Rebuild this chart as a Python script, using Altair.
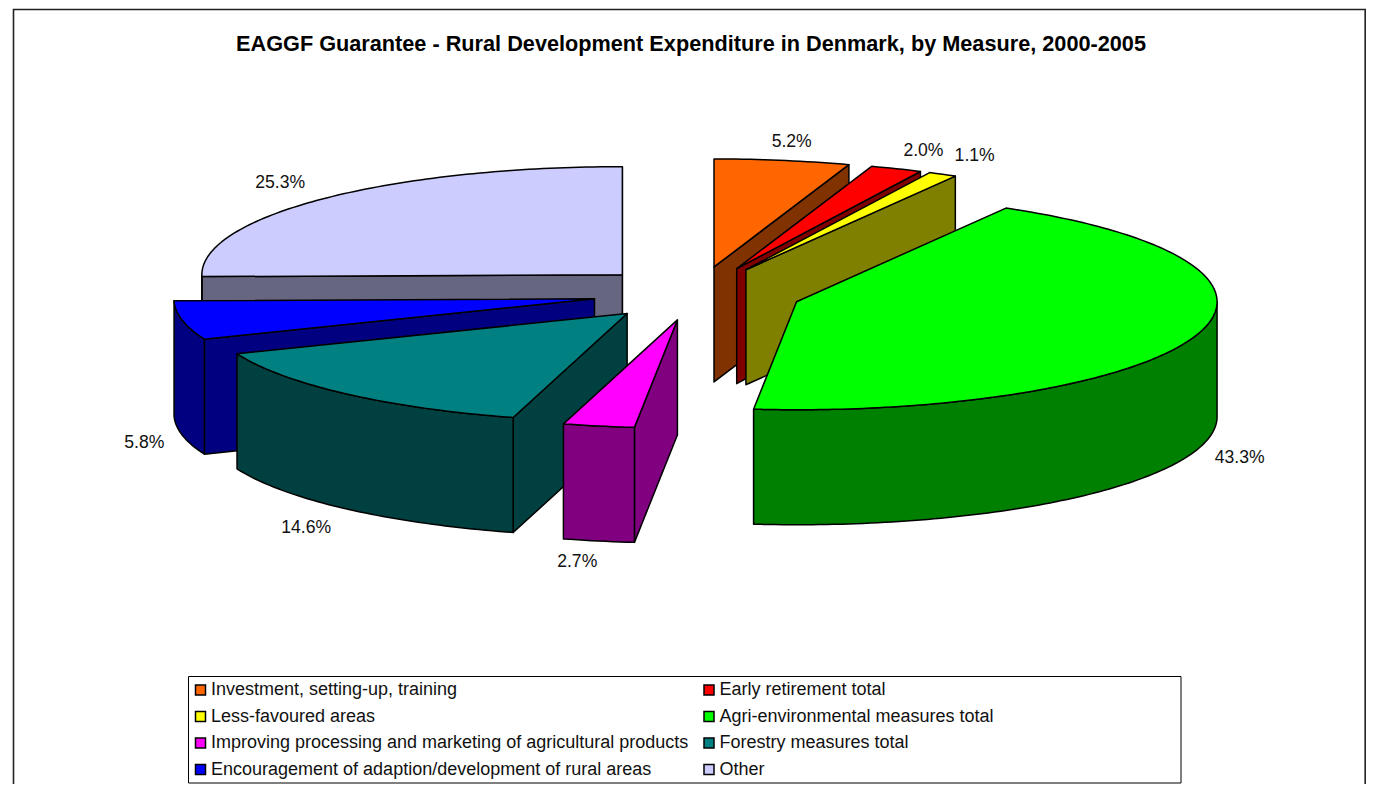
import math
import altair as alt

# ---- data ----
measures = [
    "Investment, setting-up, training",
    "Early retirement total",
    "Less-favoured areas",
    "Agri-environmental measures total",
    "Improving processing and marketing of agricultural products",
    "Forestry measures total",
    "Encouragement of adaption/development of rural areas",
    "Other",
]
shares = [5.2, 2.0, 1.1, 43.35, 2.74, 14.55, 5.8, 25.3]
share_labels = ["5.2%", "2.0%", "1.1%", "43.3%", "2.7%", "14.6%", "5.8%", "25.3%"]
top_colours = ["#FF6600", "#FF0000", "#FFFF00", "#00FF00", "#FF00FF", "#008080", "#0000FF", "#CCCCFF"]
side_colours = ["#803300", "#800000", "#808000", "#008000", "#800080", "#004040", "#000080", "#666680"]
title_text = "EAGGF Guarantee - Rural Development Expenditure in Denmark, by Measure, 2000-2005"

# ---- pie geometry (an Excel-style exploded 3-D pie) ----
W, H = 1358, 776          # drawing surface, page margin is 8px
OFF = 8
CX, CY = 697.0, 293.5     # pie centre on the page
RX, RY = 420.5, 108.0     # ellipse radii of each slice
EX, EY = 104.6, 26.9      # explosion distance
DEPTH = 115.0             # thickness of the pie
DRAW_ORDER = [7, 6, 5, 4, 0, 1, 2, 3]
LABEL_OFFSET = (45.0, 20.0)
LABEL_NUDGE = [(2, 1), (10, 1), (11, -1), (0, 2), (-13, 1), (-10, 4), (6, 4), (-10, -2)]

total = sum(shares)
edges = [0.0]
for s in shares:
    edges.append(edges[-1] + s / total * 2 * math.pi)


def rim(ax, ay, a, drop=0.0):
    return [ax + RX * math.sin(a), ay - RY * math.cos(a) + drop]


def arc(ax, ay, a0, a1, drop=0.0):
    n = max(2, int(abs(a1 - a0) / math.radians(1)) + 1)
    return [rim(ax, ay, a0 + (a1 - a0) * i / n, drop) for i in range(n + 1)]


def feature(points, fill, order):
    ring = points + [points[0]]
    return {
        "type": "Feature",
        "properties": {"fill": fill, "order": order},
        "geometry": {"type": "Polygon", "coordinates": [ring]},
    }


features = []
labels = []
for i in DRAW_ORDER:
    a0, a1 = edges[i], edges[i + 1]
    mid = (a0 + a1) / 2
    ax = CX + EX * math.sin(mid)
    ay = CY - EY * math.cos(mid)
    side, top = side_colours[i], top_colours[i]
    # cut faces turned towards the viewer
    if math.sin(a1) > 0:
        e = rim(ax, ay, a1)
        features.append(feature([[ax, ay], e, [e[0], e[1] + DEPTH], [ax, ay + DEPTH]], side, len(features)))
    if math.sin(a0) < 0:
        e = rim(ax, ay, a0)
        features.append(feature([[ax, ay], e, [e[0], e[1] + DEPTH], [ax, ay + DEPTH]], side, len(features)))
    # curved outer wall, front half only
    lo, hi = max(a0, math.pi / 2), min(a1, 3 * math.pi / 2)
    if hi > lo:
        wall = arc(ax, ay, lo, hi) + arc(ax, ay, hi, lo, DEPTH)
        features.append(feature(wall, side, len(features)))
    # top face
    features.append(feature([[ax, ay]] + arc(ax, ay, a0, a1), top, len(features)))
    # percentage label
    drop = DEPTH if math.cos(mid) < 0 else 0.0
    p = rim(ax, ay, mid, drop)
    labels.append({
        "x": p[0] + LABEL_OFFSET[0] * math.sin(mid) + LABEL_NUDGE[i][0],
        "y": p[1] - LABEL_OFFSET[1] * math.cos(mid) + LABEL_NUDGE[i][1],
        "t": share_labels[i],
    })

xs = alt.Scale(domain=[OFF, OFF + W], range=[0, W])
ys = alt.Scale(domain=[OFF, OFF + H], range=[0, H])
PROJ = dict(type="identity", scale=1, translate=[-OFF, -OFF])
X = alt.X("x:Q", scale=xs, axis=None)
Y = alt.Y("y:Q", scale=ys, axis=None)

frame = alt.Chart(alt.Data(values=[{
    "type": "Feature", "properties": {},
    "geometry": {"type": "LineString", "coordinates": [[13.5, 791.5], [13.5, 9.5], [1365.2, 9.5], [1365.2, 791.5]]},
}])).mark_geoshape(filled=False, stroke="#222222", strokeWidth=1.6).project(**PROJ)

box = alt.Chart(alt.Data(values=[{
    "type": "Feature", "properties": {},
    "geometry": {"type": "Polygon", "coordinates": [[[188.5, 676.5], [1181, 676.5], [1181, 783], [188.5, 783], [188.5, 676.5]]]},
}])).mark_geoshape(fill="white", stroke="black", strokeWidth=1).project(**PROJ)

pie = alt.Chart(alt.Data(values=features)).mark_geoshape(
    stroke="black", strokeWidth=1.5, strokeJoin="round"
).encode(fill=alt.Fill("properties.fill:N", scale=None, legend=None)).project(**PROJ)

title = alt.Chart(alt.Data(values=[{"x": 691, "y": 44, "t": title_text}])).mark_text(
    font="Liberation Sans", fontSize=21.7, fontWeight="bold", color="black", align="center", baseline="middle"
).encode(x=X, y=Y, text="t:N")

pct = alt.Chart(alt.Data(values=labels)).mark_text(
    font="Liberation Sans", fontSize=17.6, color="#111111", align="center", baseline="middle"
).encode(x=X, y=Y, text="t:N")

legend_rows = []
col_x = [200.5, 709]
row_y = [690, 716.5, 743, 769.5]
for i, name in enumerate(measures):
    legend_rows.append({
        "x": col_x[i % 2], "y": row_y[i // 2], "tx": col_x[i % 2] + 10.5,
        "t": name, "c": top_colours[i],
    })

swatches = alt.Chart(alt.Data(values=legend_rows)).mark_square(
    size=100, stroke="black", strokeWidth=1.5, opacity=1
).encode(x=X, y=Y, fill=alt.Fill("c:N", scale=None, legend=None))

legend_text = alt.Chart(alt.Data(values=legend_rows)).mark_text(
    font="Liberation Sans", fontSize=18, color="#111111", align="left", baseline="middle"
).encode(x=alt.X("tx:Q", scale=xs, axis=None), y=Y, text="t:N")

chart = alt.layer(frame, box, pie, title, pct, swatches, legend_text).properties(
    width=W, height=H, padding=0, autosize=alt.AutoSizeParams(type="none"), background="white"
).configure_view(stroke=None)

chart.save("out.html", embed_options={"renderer": "svg", "actions": False})
